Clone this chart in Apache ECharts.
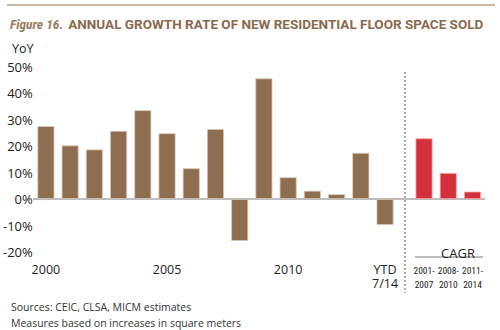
<!DOCTYPE html>
<html><head><meta charset="utf-8">
<script src="https://cdn.jsdelivr.net/npm/echarts@6/dist/echarts.min.js"></script>
<style>html,body{margin:0;padding:0;background:#fff}#c{width:500px;height:330px}</style>
</head><body><div id="c"></div>
<script>
const years = ['2000','2001','2002','2003','2004','2005','2006','2007','2008','2009','2010','2011','2012','2013','YTD 7/14'];
const yearTickLabels = ['2000','','','','','2005','','','','','2010','','','','YTD\n7/14'];
const growth = [27.5, 20.2, 18.7, 25.7, 33.5, 24.8, 11.6, 26.4, -15.8, 45.5, 8.2, 3.1, 1.8, 17.4, -9.8];
const cagrPeriods = ['2001-\n2007', '2008-\n2010', '2011-\n2014'];
const cagrValues = [22.9, 9.8, 2.8];
const yTicks = {min: -20, max: 50, interval: 10};

const FONT = '"Open Sans", "Noto Sans", sans-serif';
const NARROW = '"Roboto Condensed", sans-serif';
const BROWN = '#8d6e51';
const RED = '#d3303c';
const TITLE = '#8a6a4c';

const chart = echarts.init(document.getElementById('c'), null, {renderer: 'svg'});
const option = {
  animation: false,
  backgroundColor: '#fff',
  title: [
    {text: '{i|Figure 16.} {b|ANNUAL GROWTH RATE OF NEW RESIDENTIAL FLOOR SPACE SOLD}', left: 5, top: 10,
     textStyle: {rich: {
       i: {fontFamily: '"Roboto Condensed", sans-serif', fontStyle: 'italic', fontSize: 13.5, color: '#9a7c60'},
       b: {fontFamily: 'Roboto, sans-serif', fontWeight: 'bold', fontSize: 13.5, color: TITLE}
     }}},
    {text: 'YoY', left: 7, top: 37, textStyle: {fontFamily: FONT, fontSize: 12.5, fontWeight: 'normal', color: '#222'}},
    {text: 'Sources: CEIC, CLSA, MICM estimates\nMeasures based on increases in square meters', left: 6, top: 294,
     textStyle: {fontFamily: FONT, fontSize: 10.5, fontWeight: 'normal', color: '#333', lineHeight: 16}},
    {text: 'CAGR', left: 453, textAlign: 'center', top: 241, textStyle: {fontFamily: FONT, fontSize: 13, fontWeight: 'normal', color: '#222'}}
  ],
  grid: [
    {left: 33.4, top: 66.5, width: 363.75, height: 185.5},
    {left: 411.9, top: 66.5, width: 72.75, height: 185.5}
  ],
  xAxis: [
    {type: 'category', gridIndex: 0, data: years,
     axisLine: {show: false, onZero: false}, axisTick: {show: false},
     axisLabel: {interval: 0, formatter: (v, i) => yearTickLabels[i], margin: 10, fontFamily: FONT, fontSize: 12.5, color: '#222', lineHeight: 14}},
    {type: 'category', gridIndex: 1, data: cagrPeriods, axisLine: {show: false, onZero: false}, axisTick: {show: false},
     axisLabel: {interval: 0, margin: 11, fontFamily: NARROW, fontSize: 9.5, color: '#222', lineHeight: 14}}
  ],
  yAxis: [
    {type: 'value', gridIndex: 0, min: yTicks.min, max: yTicks.max, interval: yTicks.interval,
     axisLine: {show: false}, axisTick: {show: false}, splitLine: {show: false},
     axisLabel: {formatter: '{value}%', margin: 1, fontFamily: FONT, fontSize: 13, color: '#222'}},
    {type: 'value', gridIndex: 1, min: yTicks.min, max: yTicks.max, interval: yTicks.interval, show: false, splitLine: {show: false}}
  ],
  series: [
    {type: 'bar', xAxisIndex: 0, yAxisIndex: 0, data: growth, barWidth: 17,
     itemStyle: {color: BROWN, borderColor: '#d9c8b6', borderWidth: 0.8}},
    {type: 'bar', xAxisIndex: 1, yAxisIndex: 1, data: cagrValues, barWidth: 17,
     itemStyle: {color: RED, borderColor: '#f2a7ab', borderWidth: 0.8}}
  ]
};
chart.setOption(option);

const y0 = chart.convertToPixel({yAxisIndex: 0}, 0);
chart.setOption({
  graphic: [
    {type: 'line', shape: {x1: 7, y1: 5, x2: 495, y2: 5}, style: {stroke: '#c9b7a4', lineWidth: 2}},
    {type: 'line', z: 1, shape: {x1: 33, y1: y0, x2: 485, y2: y0}, style: {stroke: '#bdbdbd', lineWidth: 2}},
    {type: 'line', shape: {x1: 405, y1: 72, x2: 405, y2: 293}, style: {stroke: '#8f8f8f', lineWidth: 1.5, lineDash: [2, 2]}},
    {type: 'line', shape: {x1: 415, y1: 257, x2: 483, y2: 257}, style: {stroke: '#bdbdbd', lineWidth: 2}}
  ]
});
</script></body></html>
